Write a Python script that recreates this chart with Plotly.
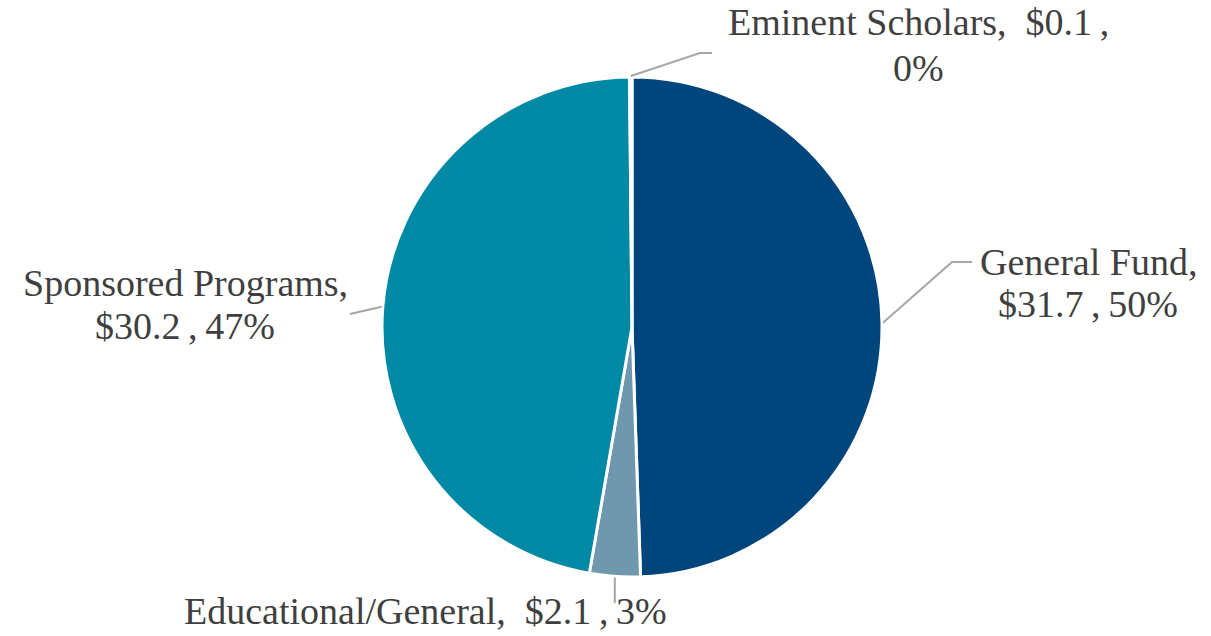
import math
import plotly.graph_objects as go

# Funding sources (millions of dollars), clockwise from 12 o'clock
categories = ["General Fund", "Educational/General", "Sponsored Programs", "Eminent Scholars"]
amounts = [31.7, 2.1, 30.2, 0.1]
percent_labels = [50, 3, 47, 0]
colors = ["#00467C", "#6F97AE", "#0089A4", "#5B8DB8"]

W, H = 1211, 636
CX, CY, R = 632, 327, 250  # pie centre and radius in pixels

FONT = dict(family="Liberation Serif", size=38, color="#3F3F3F")
LINE_COLOR = "#A6A6A6"
SEP = "\u2009,\u2009"

fig = go.Figure(go.Pie(
    labels=categories,
    values=amounts,
    sort=False,
    direction="clockwise",
    rotation=0,
    marker=dict(colors=colors, line=dict(color="white", width=3)),
    textinfo="none",
    hoverinfo="label+value+percent",
    domain=dict(x=[(CX - R) / W, (CX + R) / W], y=[1 - (CY + R) / H, 1 - (CY - R) / H]),
    showlegend=False,
))


def px(x, y):
    return x / W, 1 - y / H


# Label placement: (text lines, text centre x, first line y, line step, leader elbow points)
label_layout = {
    "General Fund": dict(lines=["General Fund,", "{amt}{sep}{pct}%"], x=1088, y=262, dy=42,
                         path=[(952, 262), (972, 262)]),
    "Educational/General": dict(lines=["Educational/General,  {amt}{sep}{pct}%"], x=425, y=611, dy=0,
                                path=[(None, 603)]),
    "Sponsored Programs": dict(lines=["Sponsored Programs,", "{amt}{sep}{pct}%"], x=185, y=283, dy=43,
                               path=[(350, 314)]),
    "Eminent Scholars": dict(lines=["Eminent Scholars,  {amt}\u2009,", "{pct}%"], x=918, y=22, dy=46,
                             path=[(700, 53), (712, 53)]),
}

total = sum(amounts)
cum = 0.0
annotations = []
shapes = []
for name, amt, pct in zip(categories, amounts, percent_labels):
    mid = (cum + amt / 2) / total * 2 * math.pi
    cum += amt
    ex = CX + (R + 1) * math.sin(mid)
    ey = CY - (R + 1) * math.cos(mid)
    spec = label_layout[name]
    pts = [(ex, ey)]
    for (qx, qy) in spec["path"]:
        pts.append((ex if qx is None else qx, qy))
    path = "M " + " L ".join(f"{px(a, b)[0]:.5f},{px(a, b)[1]:.5f}" for a, b in pts)
    shapes.append(dict(type="path", path=path, xref="paper", yref="paper",
                       line=dict(color=LINE_COLOR, width=2)))
    for i, line in enumerate(spec["lines"]):
        txt = line.format(amt=f"${amt:.1f}", pct=pct, sep=SEP)
        ax, ay = px(spec["x"], spec["y"] + i * spec["dy"])
        annotations.append(dict(text=txt, x=ax, y=ay, xref="paper", yref="paper",
                                xanchor="center", yanchor="middle", showarrow=False, font=FONT))

fig.update_layout(
    width=W, height=H,
    margin=dict(l=0, r=0, t=0, b=0),
    paper_bgcolor="white", plot_bgcolor="white",
    annotations=annotations,
    shapes=shapes,
)

fig.write_html("out.html")
